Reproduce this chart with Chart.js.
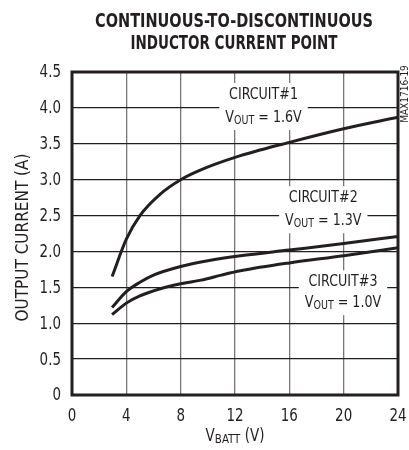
<!DOCTYPE html>
<html>
<head>
<meta charset="utf-8">
<script src="https://cdn.jsdelivr.net/npm/chart.js@4"></script>
<style>
  html, body { margin: 0; padding: 0; background: #fff; }
  #wrap { width: 409px; height: 450px; }
</style>
</head>
<body>
<div id="wrap"><canvas id="chart" width="409" height="450"></canvas></div>
<script>
// values
const vbatt1 = [2.95, 4, 5, 6.5, 8, 9.4, 12, 16, 20, 24];
const circuit1 = [1.65, 2.17, 2.5, 2.8, 3.0, 3.13, 3.31, 3.52, 3.71, 3.87];
const vbatt2 = [2.95, 4, 5, 6, 8, 10, 12.4, 16, 20, 24];
const circuit2 = [1.22, 1.44, 1.57, 1.67, 1.79, 1.87, 1.94, 2.02, 2.11, 2.21];
const vbatt3 = [2.95, 4, 5, 6.5, 8, 9.5, 11, 12.4, 16, 20, 24];
const circuit3 = [1.12, 1.28, 1.38, 1.48, 1.55, 1.6, 1.67, 1.73, 1.84, 1.94, 2.05];
const xTicks = [0, 4, 8, 12, 16, 20, 24];
const yTicks = [0, 0.5, 1.0, 1.5, 2.0, 2.5, 3.0, 3.5, 4.0, 4.5];

const labels = [
    { x: 14.1, y1: 4.18, y2: 3.86, name: 'CIRCUIT#1', vout: '1.6V' },
    { x: 18.5, y1: 2.74, y2: 2.42, name: 'CIRCUIT#2', vout: '1.3V' },
    { x: 19.95, y1: 1.57, y2: 1.28, name: 'CIRCUIT#3', vout: '1.0V' }
];

const FONT = '"Liberation Sans Narrow", "DejaVu Sans Condensed", "Arial Narrow", sans-serif';
const INK = '#231f20';
const SQUEEZE = 0.88;

const toPoints = (xs, ys) => xs.map((x, i) => ({ x, y: ys[i] }));

// width of "V" + subscript + rest at a given size (before squeeze)
const subWidth = (ctx, main, sub, rest, size) => {
    ctx.font = size + 'px ' + FONT;
    let w = ctx.measureText(main).width + ctx.measureText(rest).width;
    ctx.font = Math.round(size * 0.78) + 'px ' + FONT;
    return w + ctx.measureText(sub).width;
};

// draws "V" + subscript + rest, centred on cx, condensed
const drawSub = (ctx, main, sub, rest, cx, cy, size) => {
    const total = subWidth(ctx, main, sub, rest, size);
    ctx.save();
    ctx.translate(cx, cy);
    ctx.scale(SQUEEZE, 1);
    ctx.textAlign = 'left';
    ctx.textBaseline = 'middle';
    let x = -total / 2;
    ctx.font = size + 'px ' + FONT;
    ctx.fillText(main, x, 0);
    x += ctx.measureText(main).width;
    ctx.font = Math.round(size * 0.78) + 'px ' + FONT;
    ctx.fillText(sub, x, 3);
    x += ctx.measureText(sub).width;
    ctx.font = size + 'px ' + FONT;
    ctx.fillText(rest, x, 0);
    ctx.restore();
    return total * SQUEEZE;
};

const drawNarrow = (ctx, text, cx, cy, size) => {
    ctx.save();
    ctx.translate(cx, cy);
    ctx.scale(SQUEEZE, 1);
    ctx.font = size + 'px ' + FONT;
    ctx.textAlign = 'center';
    ctx.textBaseline = 'middle';
    ctx.fillText(text, 0, 0);
    const w = ctx.measureText(text).width * SQUEEZE;
    ctx.restore();
    return w;
};

const decor = {
    id: 'decor',
    beforeDatasetsDraw(chart) {
        const { ctx, scales: { x, y } } = chart;
        ctx.save();
        labels.forEach(l => {
            const cx = x.getPixelForValue(l.x);
            const cy1 = y.getPixelForValue(l.y1);
            const cy2 = y.getPixelForValue(l.y2);
            ctx.font = '16px ' + FONT;
            const w1 = ctx.measureText(l.name).width * SQUEEZE;
            const wv = subWidth(ctx, 'V', 'OUT', ' = ' + l.vout, 16) * SQUEEZE;
            const w = Math.max(w1, wv) + 12;
            ctx.fillStyle = '#fff';
            ctx.fillRect(cx - w / 2, cy1 - 12, w, cy2 - cy1 + 24);
            ctx.fillStyle = INK;
            drawNarrow(ctx, l.name, cx, cy1, 16);
            drawSub(ctx, 'V', 'OUT', ' = ' + l.vout, cx, cy2, 16);
        });
        ctx.restore();
    },
    afterDraw(chart) {
        const { ctx, chartArea: a, scales: { x, y } } = chart;
        ctx.save();
        // frame
        ctx.strokeStyle = INK;
        ctx.lineWidth = 3;
        ctx.strokeRect(a.left, a.top, a.right - a.left, a.bottom - a.top);

        ctx.fillStyle = INK;

        // tick labels from the chart's own scales
        xTicks.forEach(v => drawNarrow(ctx, String(v), x.getPixelForValue(v), 417, 17));
        yTicks.forEach(v => {
            const t = v === 0 ? '0' : v.toFixed(1);
            ctx.font = '17px ' + FONT;
            const w = ctx.measureText(t).width * SQUEEZE;
            drawNarrow(ctx, t, a.left - 11 - w / 2, y.getPixelForValue(v) + 1, 17);
        });

        // title, squeezed to the width of the original
        ctx.textAlign = 'center';
        ctx.textBaseline = 'middle';
        const titles = [['CONTINUOUS-TO-DISCONTINUOUS', 22, 278], ['INDUCTOR CURRENT POINT', 44, 207]];
        titles.forEach(([t, ty, tw]) => {
            ctx.font = 'bold 20px ' + FONT;
            const m = ctx.measureText(t).width;
            ctx.save();
            ctx.translate(234, ty);
            ctx.scale(tw / m, 1);
            ctx.fillText(t, 0, 0);
            ctx.restore();
        });

        // y axis title
        ctx.save();
        ctx.translate(24, (a.top + a.bottom) / 2 + 4);
        ctx.rotate(-Math.PI / 2);
        ctx.font = '17px ' + FONT;
        ctx.fillText('OUTPUT CURRENT (A)', 0, 0);
        ctx.restore();

        // x axis title
        drawSub(ctx, 'V', 'BATT', ' (V)', (a.left + a.right) / 2, 437, 17);

        // figure id
        ctx.save();
        ctx.translate(405, 94);
        ctx.rotate(-Math.PI / 2);
        ctx.font = '10px ' + FONT;
        ctx.textAlign = 'center';
        ctx.textBaseline = 'middle';
        ctx.fillText('MAX1716-19', 0, 0);
        ctx.restore();
        ctx.restore();
    }
};

const lineStyle = {
    borderColor: INK,
    borderWidth: 3,
    pointRadius: 0,
    fill: false,
    cubicInterpolationMode: 'monotone'
};

new Chart(document.getElementById('chart').getContext('2d'), {
    type: 'line',
    data: {
        datasets: [
            { label: 'Circuit #1', data: toPoints(vbatt1, circuit1), ...lineStyle },
            { label: 'Circuit #2', data: toPoints(vbatt2, circuit2), ...lineStyle },
            { label: 'Circuit #3', data: toPoints(vbatt3, circuit3), ...lineStyle }
        ]
    },
    options: {
        responsive: false,
        animation: false,
        layout: { padding: { left: 0, top: 72, right: 11, bottom: 0 } },
        plugins: {
            legend: { display: false },
            tooltip: { enabled: false }
        },
        scales: {
            x: {
                type: 'linear',
                min: 0,
                max: 24,
                afterFit: s => { s.height = 55; },
                afterBuildTicks: s => { s.ticks = xTicks.map(v => ({ value: v })); },
                grid: { color: '#777', lineWidth: 1.3, drawTicks: false },
                border: { display: false },
                ticks: { display: false }
            },
            y: {
                min: 0,
                max: 4.5,
                afterFit: s => { s.width = 72; },
                afterBuildTicks: s => { s.ticks = yTicks.map(v => ({ value: v })); },
                grid: { color: INK, lineWidth: 1.3, drawTicks: false },
                border: { display: false },
                ticks: { display: false }
            }
        }
    },
    plugins: [decor]
});
</script>
</body>
</html>
